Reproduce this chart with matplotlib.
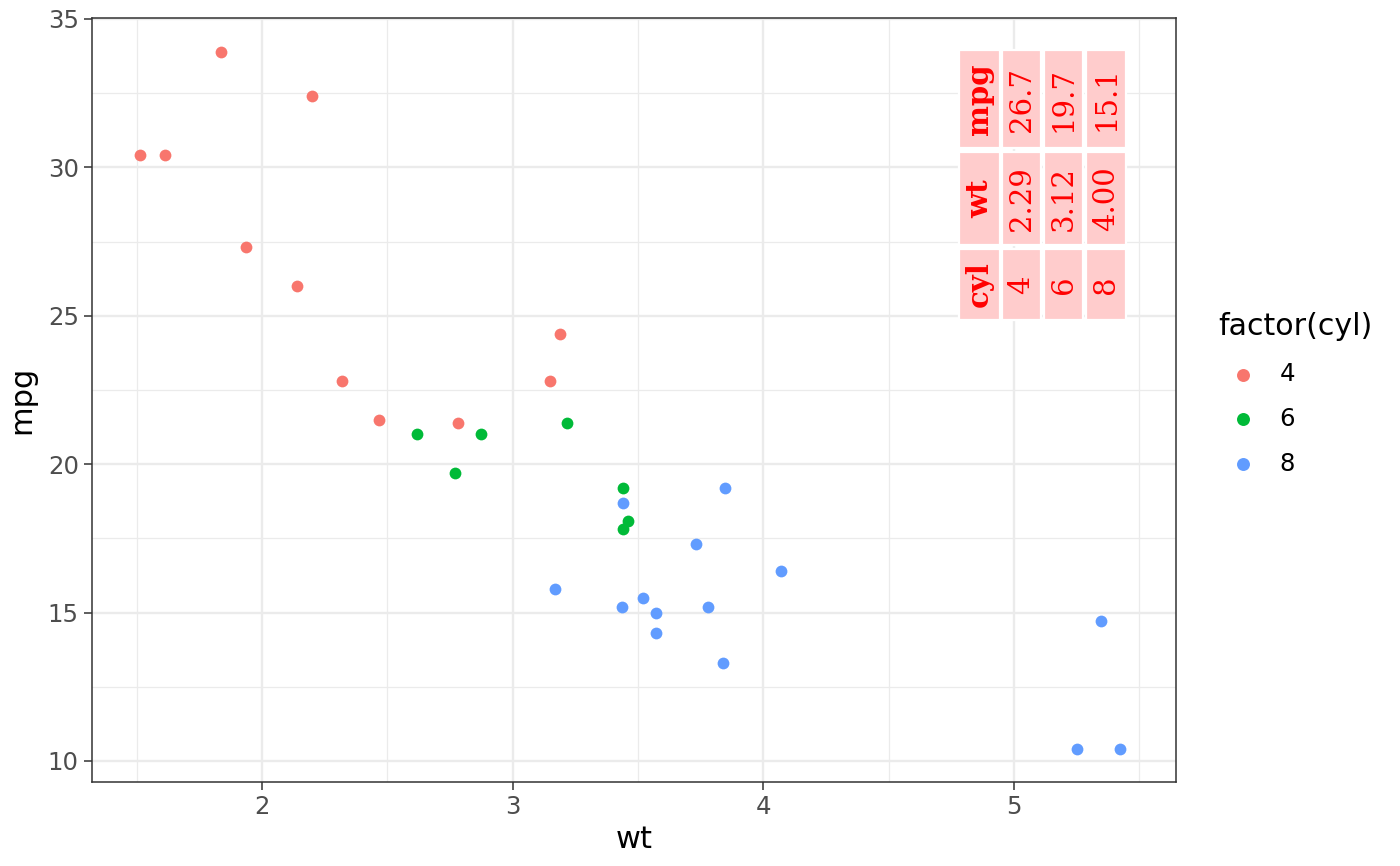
import matplotlib
matplotlib.use("Agg")
import matplotlib.pyplot as plt
from matplotlib.patches import Rectangle
from matplotlib.ticker import MultipleLocator

# mtcars: weight, mpg, cylinders
wt = [2.620, 2.875, 2.320, 3.215, 3.440, 3.460, 3.570, 3.190, 3.150, 3.440, 3.440,
      4.070, 3.730, 3.780, 5.250, 5.424, 5.345, 2.200, 1.615, 1.835, 2.465, 3.520,
      3.435, 3.840, 3.845, 1.935, 2.140, 1.513, 3.170, 2.770, 3.570, 2.780]
mpg = [21.0, 21.0, 22.8, 21.4, 18.7, 18.1, 14.3, 24.4, 22.8, 19.2, 17.8,
       16.4, 17.3, 15.2, 10.4, 10.4, 14.7, 32.4, 30.4, 33.9, 21.5, 15.5,
       15.2, 13.3, 19.2, 27.3, 26.0, 30.4, 15.8, 19.7, 15.0, 21.4]
cyl = [6, 6, 4, 6, 8, 6, 8, 4, 4, 6, 6,
       8, 8, 8, 8, 8, 8, 4, 4, 4, 4, 8,
       8, 8, 8, 4, 4, 4, 8, 6, 8, 4]

levels = [4, 6, 8]
colours = {4: "#F8766D", 6: "#00BA38", 8: "#619CFF"}

# summary table shown in the panel
tab_header = ["cyl", "wt", "mpg"]
tab_cyl = ["4", "6", "8"]
tab_wt = ["2.29", "3.12", "4.00"]
tab_mpg = ["26.7", "19.7", "15.1"]

fig = plt.figure(figsize=(7, 4.33), dpi=200)
ax = fig.add_axes([92/1400, 84/866, 1084/1400, 764/866])

for lv in levels:
    xs = [w for w, c in zip(wt, cyl) if c == lv]
    ys = [m for m, c in zip(mpg, cyl) if c == lv]
    ax.scatter(xs, ys, s=18, color=colours[lv], linewidths=0, label=str(lv), zorder=3)

ax.set_xlim(1.322, 5.646)
ax.set_ylim(9.29, 35.03)
ax.xaxis.set_major_locator(MultipleLocator(1))
ax.xaxis.set_minor_locator(MultipleLocator(0.5))
ax.yaxis.set_major_locator(MultipleLocator(5))
ax.yaxis.set_minor_locator(MultipleLocator(2.5))
ax.grid(which="major", color="#EBEBEB", linewidth=0.85, zorder=0)
ax.grid(which="minor", color="#EBEBEB", linewidth=0.45, zorder=0)
ax.set_axisbelow(True)
for sp in ax.spines.values():
    sp.set_color("#333333")
    sp.set_linewidth(0.55)
ax.tick_params(which="major", length=2.75, width=0.55, color="#333333",
               labelsize=8.8, labelcolor="#4D4D4D", pad=2)
ax.tick_params(which="minor", length=0)
ax.set_xlabel("wt", fontsize=11, labelpad=2)
ax.set_ylabel("mpg", fontsize=11, labelpad=4)

# rotated table, drawn in axes fraction coordinates
def fx(px):
    return (px - 92) / 1084

def fy(py):
    return (782 - py) / 764

col_edges = [(959, 1000), (1002, 1041), (1044, 1083), (1086, 1126)]
row_edges = [(249, 320), (152, 245), (50, 148)]  # cyl, wt, mpg from bottom
columns = [tab_cyl, tab_wt, tab_mpg]
for r, (y0, y1) in enumerate(row_edges):
    cells = [tab_header[r]] + columns[r]
    for c, (x0, x1) in enumerate(col_edges):
        ax.add_patch(Rectangle((fx(x0), fy(y1)), fx(x1) - fx(x0), fy(y0) - fy(y1),
                               transform=ax.transAxes, facecolor="#FFCCCC",
                               edgecolor="white", linewidth=0.8, zorder=4))
        ax.text((fx(x0) + fx(x1)) / 2, (fy(y0) + fy(y1)) / 2, cells[c],
                transform=ax.transAxes, rotation=90, ha="center", va="center",
                rotation_mode="anchor", color="red", fontsize=10.5,
                family="DejaVu Serif", weight="bold" if c == 0 else "normal",
                zorder=5)

leg = ax.legend(title="factor(cyl)", loc="center left", bbox_to_anchor=(1.03, 0.508),
                frameon=False, fontsize=8.8, title_fontsize=10.8, markerscale=1.1,
                handletextpad=0.5, labelspacing=0.85, borderaxespad=0)
leg._legend_box.align = "left"

fig.savefig("out.png", dpi=200)
